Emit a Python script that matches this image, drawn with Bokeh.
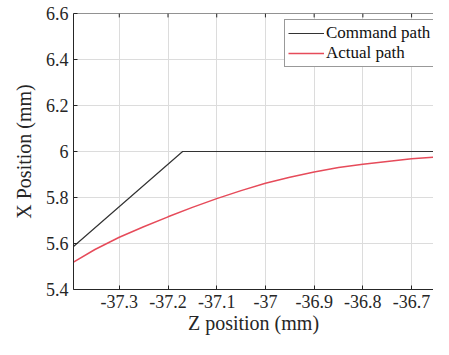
from bokeh.plotting import figure
from bokeh.models import Range1d, FixedTicker, CustomJSTickFormatter, Legend, LegendItem, Span
from bokeh.embed import file_html
from bokeh.resources import INLINE

# data
cmd_z = [-37.394, -37.17, -36.622]
cmd_x = [5.587, 6.0, 6.0]

act_z = [-37.394, -37.35, -37.3, -37.25, -37.2, -37.15, -37.1, -37.05, -37.0,
         -36.95, -36.9, -36.85, -36.8, -36.75, -36.7, -36.65, -36.622]
act_x = [5.519, 5.574, 5.627, 5.673, 5.716, 5.757, 5.795, 5.830, 5.862,
         5.888, 5.911, 5.930, 5.945, 5.957, 5.968, 5.976, 5.980]

x_ticks = [-37.3, -37.2, -37.1, -37.0, -36.9, -36.8, -36.7]
y_ticks = [5.4, 5.6, 5.8, 6.0, 6.2, 6.4, 6.6]

FONT = "Liberation Serif"
AX = "#262626"

p = figure(width=433, height=339, output_backend="svg", toolbar_location=None,
           x_range=Range1d(-37.394, -36.655), y_range=Range1d(5.4, 6.6),
           min_border_left=73, min_border_right=0, min_border_top=13, min_border_bottom=50)
p.outline_line_color = None
p.background_fill_color = "white"
p.border_fill_color = "white"

fmt = CustomJSTickFormatter(code="return tick.toFixed(1).replace(/\\.0$/, '');")

p.xaxis.ticker = FixedTicker(ticks=x_ticks)
p.yaxis.ticker = FixedTicker(ticks=y_ticks)
p.axis.formatter = fmt
p.axis.major_tick_in = 4
p.axis.major_tick_out = 0
p.axis.minor_tick_line_color = None
p.axis.axis_line_color = AX
p.axis.major_tick_line_color = AX
p.axis.axis_label_text_font_style = "normal"
p.axis.axis_label_text_color = AX
p.axis.major_label_text_color = AX
p.axis.major_label_text_font = FONT
p.axis.major_label_text_font_size = "18px"
p.axis.axis_label_text_font = FONT
p.axis.axis_label_text_font_size = "20px"

p.xaxis.axis_label = "Z position (mm)"
p.yaxis.axis_label = "X Position (mm)"
p.xaxis.major_label_standoff = 5
p.xaxis.axis_label_standoff = 1
p.yaxis.major_label_standoff = 5
p.yaxis.axis_label_standoff = 8

# box top edge with inward ticks
p.add_layout(Span(location=y_ticks[-1], dimension="width", line_color=AX, line_width=1))
p.segment(x0=x_ticks, y0=[y_ticks[-1]] * len(x_ticks), x1=x_ticks,
          y1=[y_ticks[-1] - 0.017] * len(x_ticks), line_color=AX, line_width=1)

p.xgrid.ticker = FixedTicker(ticks=x_ticks)
p.ygrid.ticker = FixedTicker(ticks=y_ticks)
p.grid.grid_line_color = "#dcdcdc"
p.grid.grid_line_width = 1

r1 = p.line(cmd_z, cmd_x, line_color="#333333", line_width=1.2)
r2 = p.line(act_z, act_x, line_color="#e64b5a", line_width=1.5)

legend = Legend(items=[LegendItem(label="Command path", renderers=[r1]),
                       LegendItem(label="Actual path", renderers=[r2])],
                location=(211, 222))
legend.label_text_font = FONT
legend.label_text_font_size = "17px"
legend.label_text_color = "#111111"
legend.border_line_color = "#333333"
legend.border_line_width = 1
legend.glyph_width = 36
legend.glyph_height = 20
legend.label_height = 20
legend.label_standoff = 2
legend.padding = 3
legend.spacing = 0
legend.margin = 0
legend.background_fill_alpha = 1
p.add_layout(legend, "center")

open("out.html", "w").write(file_html(p, INLINE))
